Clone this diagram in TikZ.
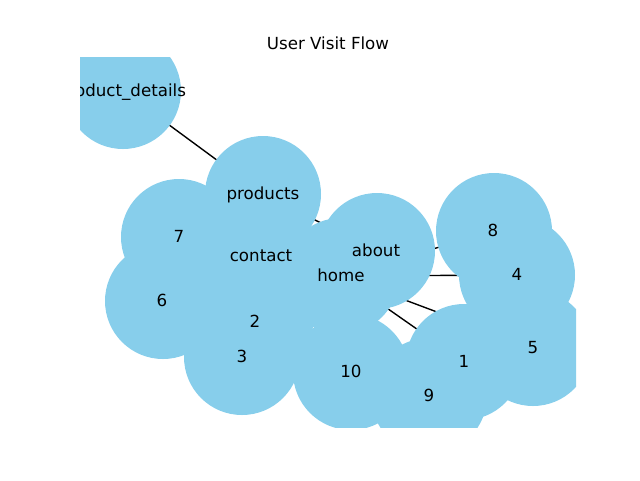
\documentclass[tikz,border=0pt]{standalone}
\usepackage{fontspec}
\setmainfont{DejaVu Sans}
\definecolor{sky}{HTML}{87CEEB}
\begin{document}
\begin{tikzpicture}[x=0.75pt,y=-0.75pt,
  nodecirc/.style={circle,fill=sky,draw=none,minimum size=87pt,inner sep=0pt},
  lbl/.style={font=\fontsize{12.5}{15}\selectfont,text height=0.76em,text depth=0.24em,inner sep=0pt,yshift=-2.25pt},
  edge/.style={draw=black,line width=1.04pt}]
\useasboundingbox (0,0) rectangle (640,480);
\node[font=\fontsize{12.5}{15}\selectfont,inner sep=0pt,anchor=base] (title) at (328,49.5) {User Visit Flow};
\begin{scope}
\clip (80,57.6) rectangle (576,427.2);
% node centres
\coordinate (pd) at (123,91);
\coordinate (products) at (263,194);
\coordinate (c7) at (179,237);
\coordinate (contact) at (261,256);
\coordinate (about) at (377,251);
\coordinate (home) at (341,276);
\coordinate (c8) at (494,231);
\coordinate (c4) at (517,275);
\coordinate (c6) at (163,301);
\coordinate (c2) at (255,323);
\coordinate (c3) at (242,357);
\coordinate (c10) at (351,372);
\coordinate (c1) at (464,362);
\coordinate (c5) at (533,348);
\coordinate (c9) at (429,396);
% edges
\draw[edge] (pd) -- (products);
\draw[edge] (products) -- (about);
\draw[edge] (home) -- (c8);
\draw[edge] (home) -- (c4);
\draw[edge] (home) -- (c5);
\draw[edge] (home) -- (c1);
% nodes
\foreach \n in {pd,products,c7,contact,about,home,c8,c4,c6,c2,c3,c10,c1,c5,c9}
  \node[nodecirc] (n\n) at (\n) {};
% labels
\node[lbl] (lpd) at (122,90) {product\_details};
\node[lbl] (lproducts) at (263,193) {products};
\node[lbl] (l7) at (179,236) {7};
\node[lbl] (lcontact) at (261,255) {contact};
\node[lbl] (labout) at (376,250) {about};
\node[lbl] (lhome) at (341,275) {home};
\node[lbl] (l8) at (493,230) {8};
\node[lbl] (l4) at (517,274) {4};
\node[lbl] (l6) at (162,300) {6};
\node[lbl] (l2) at (255,321) {2};
\node[lbl] (l3) at (242,356) {3};
\node[lbl] (l10) at (351,371) {10};
\node[lbl] (l1) at (464,361) {1};
\node[lbl] (l5) at (533,347) {5};
\node[lbl] (l9) at (429,395) {9};
\end{scope}
\end{tikzpicture}
\end{document}
